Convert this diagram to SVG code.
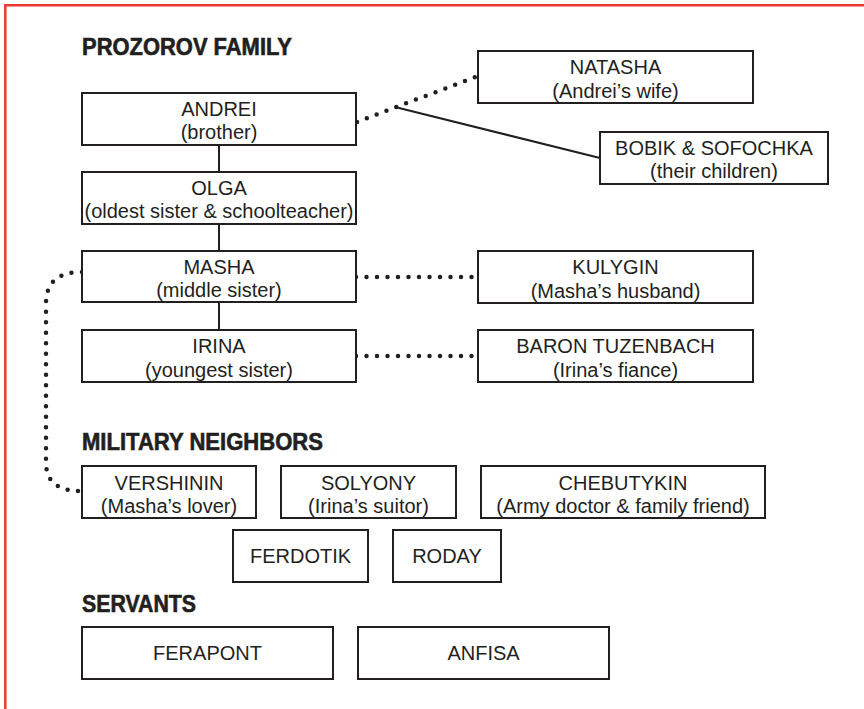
<svg xmlns="http://www.w3.org/2000/svg" width="864" height="709" viewBox="0 0 864 709">
<style>
.box{fill:#fff;stroke:#231f20;stroke-width:2}
.t{font-family:"Liberation Sans",Arial,sans-serif;font-size:20px;fill:#231f20;text-anchor:middle}
.h{font-family:"Liberation Sans",Arial,sans-serif;font-size:23px;font-weight:bold;fill:#231f20;stroke:#231f20;stroke-width:0.6}
.solid{fill:none;stroke:#231f20;stroke-width:2}
.dots{fill:none;stroke:#231f20;stroke-width:4.5;stroke-linecap:round;stroke-dasharray:0 10.5}
</style>
<rect width="864" height="709" fill="#fff"/>
<path d="M5.3,709 V5.3 H864" fill="none" stroke="#ec3a2f" stroke-width="2.5"/>
<g id="headers">
<text class="h" x="82" y="55" textLength="210" lengthAdjust="spacingAndGlyphs">PROZOROV FAMILY</text>
<text class="h" x="82" y="450" textLength="241" lengthAdjust="spacingAndGlyphs">MILITARY NEIGHBORS</text>
<text class="h" x="82" y="612" textLength="114" lengthAdjust="spacingAndGlyphs">SERVANTS</text>
</g>
<g id="connectors">
<line class="solid" x1="219" y1="145" x2="219" y2="172"/>
<line class="solid" x1="219" y1="224" x2="219" y2="251"/>
<line class="solid" x1="219" y1="302" x2="219" y2="330"/>
<line class="dots" x1="357" y1="122" x2="478" y2="76"/>
<line class="solid" x1="395" y1="107" x2="600" y2="158"/>
<line class="dots" x1="356" y1="277" x2="478" y2="277"/>
<line class="dots" x1="356" y1="356" x2="478" y2="356"/>
<path class="dots" d="M82,272 C58,272 46,282 46,304 L46,462 C46,484 60,491 82,491"/>
</g>
<g id="andrei"><rect class="box" x="82" y="93" width="274" height="52"/><text class="t" x="219" y="116">ANDREI</text><text class="t" x="219" y="139">(brother)</text></g>
<g id="olga"><rect class="box" x="82" y="172" width="274" height="52"/><text class="t" x="219" y="195">OLGA</text><text class="t" x="219" y="218">(oldest sister &amp; schoolteacher)</text></g>
<g id="masha"><rect class="box" x="82" y="251" width="274" height="51"/><text class="t" x="219" y="274">MASHA</text><text class="t" x="219" y="297">(middle sister)</text></g>
<g id="irina"><rect class="box" x="82" y="330" width="274" height="52"/><text class="t" x="219" y="353">IRINA</text><text class="t" x="219" y="377">(youngest sister)</text></g>
<g id="natasha"><rect class="box" x="478" y="51" width="275" height="52"/><text class="t" x="615.5" y="74">NATASHA</text><text class="t" x="615.5" y="98">(Andrei’s wife)</text></g>
<g id="bobik"><rect class="box" x="600" y="132" width="228" height="52"/><text class="t" x="714" y="155">BOBIK &amp; SOFOCHKA</text><text class="t" x="714" y="178">(their children)</text></g>
<g id="kulygin"><rect class="box" x="478" y="251" width="275" height="52"/><text class="t" x="615.5" y="274">KULYGIN</text><text class="t" x="615.5" y="298">(Masha’s husband)</text></g>
<g id="tuzenbach"><rect class="box" x="478" y="330" width="275" height="52"/><text class="t" x="615.5" y="353">BARON TUZENBACH</text><text class="t" x="615.5" y="377">(Irina’s fiance)</text></g>
<g id="vershinin"><rect class="box" x="82" y="466" width="174" height="52"/><text class="t" x="169" y="490">VERSHININ</text><text class="t" x="169" y="513">(Masha’s lover)</text></g>
<g id="solyony"><rect class="box" x="281" y="466" width="175" height="52"/><text class="t" x="368.5" y="490">SOLYONY</text><text class="t" x="368.5" y="513">(Irina’s suitor)</text></g>
<g id="chebutykin"><rect class="box" x="481" y="466" width="284" height="52"/><text class="t" x="623" y="490">CHEBUTYKIN</text><text class="t" x="623" y="513">(Army doctor &amp; family friend)</text></g>
<g id="ferdotik"><rect class="box" x="233" y="530" width="135" height="52"/><text class="t" x="300.5" y="563">FERDOTIK</text></g>
<g id="roday"><rect class="box" x="393" y="530" width="108" height="52"/><text class="t" x="447" y="563">RODAY</text></g>
<g id="ferapont"><rect class="box" x="82" y="627" width="251" height="52"/><text class="t" x="207.5" y="660">FERAPONT</text></g>
<g id="anfisa"><rect class="box" x="358" y="627" width="251" height="52"/><text class="t" x="483.5" y="660">ANFISA</text></g>
</svg>
